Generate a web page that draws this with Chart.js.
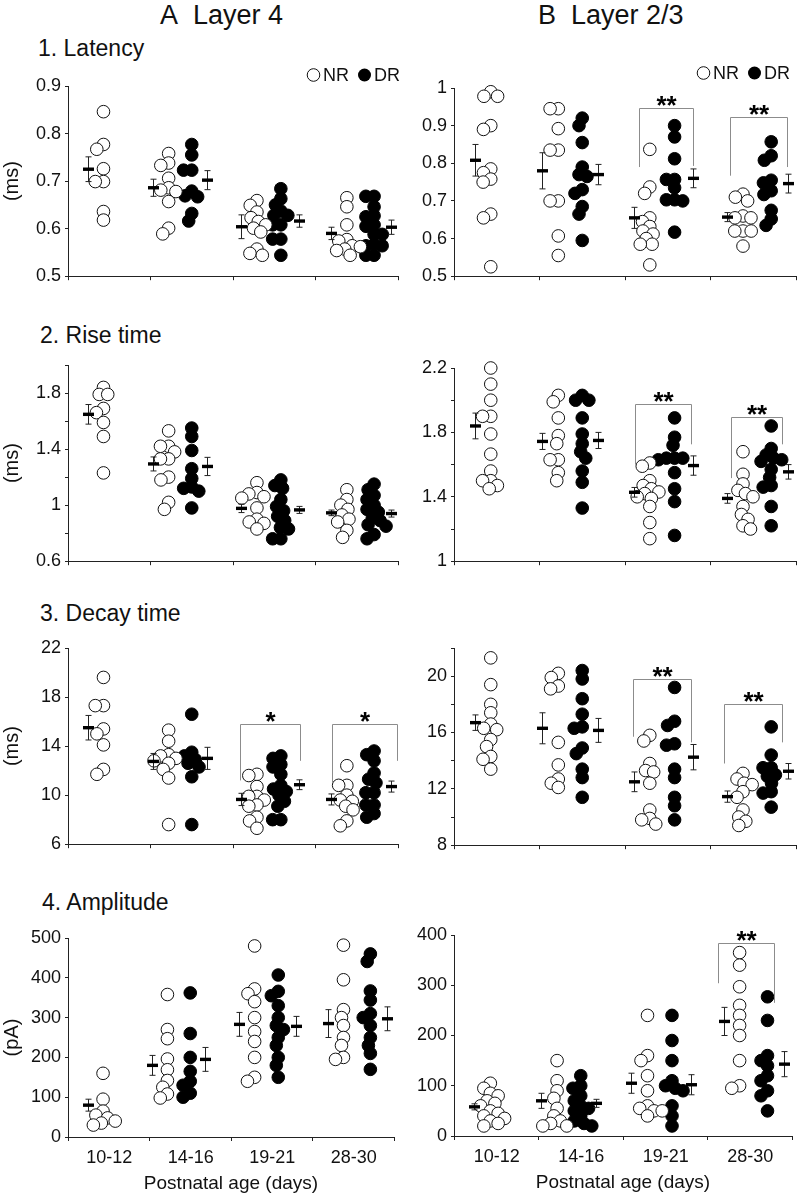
<!DOCTYPE html>
<html>
<head>
<meta charset="utf-8">
<script src="https://cdn.jsdelivr.net/npm/chart.js@4"></script>
<style>
  body { margin: 0; width: 798px; height: 1199px; background: #fff; position: relative; overflow: hidden;
         font-family: "Liberation Sans", Arial, sans-serif; color: #111; }
  .t { position: absolute; white-space: nowrap; line-height: 1; }
  canvas { position: absolute; }
</style>
</head>
<body>
<div class="t" style="left:160px;top:2px;font-size:27px">A&nbsp; Layer 4</div>
<div class="t" style="left:538px;top:2px;font-size:27px">B&nbsp; Layer 2/3</div>
<div class="t" style="left:38px;top:37px;font-size:23px">1. Latency</div>
<div class="t" style="left:40px;top:324px;font-size:23px">2. Rise time</div>
<div class="t" style="left:40px;top:602px;font-size:23px">3. Decay time</div>
<div class="t" style="left:42px;top:891px;font-size:23px">4. Amplitude</div>
<script>
const ages = ['10-12', '14-16', '19-21', '28-30'];

// 1. Latency (ms)
const latL4Ticks = [0.5, 0.6, 0.7, 0.8, 0.9];
const latL4NR = [
  [0.846, 0.777, 0.767, 0.726, 0.699, 0.699, 0.636, 0.618],
  [0.758, 0.738, 0.733, 0.706, 0.686, 0.681, 0.678, 0.657, 0.601, 0.589],
  [0.659, 0.649, 0.635, 0.623, 0.615, 0.608, 0.601, 0.593, 0.557, 0.548, 0.544],
  [0.665, 0.646, 0.608, 0.577, 0.574, 0.564, 0.562, 0.557, 0.554, 0.544]
];
const latL4DR = [
  [],
  [0.777, 0.755, 0.723, 0.723, 0.679, 0.669, 0.667, 0.632, 0.616],
  [0.684, 0.663, 0.65, 0.637, 0.628, 0.628, 0.608, 0.608, 0.578, 0.578, 0.544],
  [0.668, 0.668, 0.646, 0.627, 0.625, 0.608, 0.605, 0.588, 0.588, 0.567, 0.564, 0.564, 0.544, 0.544]
];
const latL4NRMean = [0.725, 0.686, 0.604, 0.59];
const latL4NRSem = [0.026, 0.018, 0.025, 0.013];
const latL4DRMean = [null, 0.702, 0.616, 0.603];
const latL4DRSem = [null, 0.02, 0.013, 0.015];

const latL23Ticks = [0.5, 0.6, 0.7, 0.8, 0.9, 1];
const latL23NR = [
  [0.99, 0.978, 0.978, 0.9, 0.89, 0.785, 0.775, 0.758, 0.75, 0.665, 0.655, 0.525],
  [0.945, 0.945, 0.892, 0.835, 0.835, 0.7, 0.7, 0.607, 0.555],
  [0.837, 0.737, 0.72, 0.655, 0.645, 0.632, 0.62, 0.612, 0.6, 0.585, 0.585, 0.53],
  [0.718, 0.71, 0.7, 0.66, 0.655, 0.655, 0.62, 0.62, 0.62, 0.58]
];
const latL23DR = [
  [],
  [0.92, 0.9, 0.855, 0.79, 0.77, 0.765, 0.73, 0.72, 0.685, 0.665, 0.595],
  [0.9, 0.87, 0.812, 0.757, 0.757, 0.735, 0.703, 0.703, 0.7, 0.617],
  [0.857, 0.82, 0.808, 0.755, 0.748, 0.727, 0.717, 0.675, 0.652, 0.635]
];
const latL23NRMean = [0.808, 0.78, 0.655, 0.657];
const latL23NRSem = [0.042, 0.048, 0.028, 0.012];
const latL23DRMean = [null, 0.77, 0.76, 0.746];
const latL23DRSem = [null, 0.027, 0.025, 0.025];
const latL23Sig = [
  { from: 2.16, to: 2.8, top: 0.946, l: 0.79, r: 0.793, text: '**' },
  { from: 3.23, to: 3.9, top: 0.922, l: 0.767, r: 0.79, text: '**' }
];

// 2. Rise time (ms)
const riseL4Ticks = [0.6, 1, 1.4, 1.8];
const riseL4NR = [
  [1.84, 1.79, 1.79, 1.69, 1.66, 1.59, 1.49, 1.23],
  [1.53, 1.42, 1.42, 1.38, 1.33, 1.33, 1.2, 1.18, 1.02, 0.97],
  [1.16, 1.09, 1.08, 1.06, 1.05, 0.98, 0.9, 0.88, 0.87, 0.83],
  [1.11, 1.04, 1.0, 0.97, 0.93, 0.9, 0.88, 0.82, 0.77]
];
const riseL4DR = [
  [],
  [1.55, 1.49, 1.39, 1.26, 1.19, 1.13, 1.12, 1.1, 0.98],
  [1.18, 1.14, 1.12, 1.04, 0.99, 0.96, 0.92, 0.89, 0.84, 0.83, 0.76, 0.76],
  [1.15, 1.11, 1.07, 1.04, 1.0, 0.97, 0.95, 0.91, 0.89, 0.86, 0.85, 0.79, 0.76]
];
const riseL4NRMean = [1.648, 1.294, 0.977, 0.945];
const riseL4NRSem = [0.07, 0.05, 0.03, 0.02];
const riseL4DRMean = [null, 1.276, 0.966, 0.94];
const riseL4DRSem = [null, 0.065, 0.025, 0.025];

const riseL23Ticks = [1, 1.4, 1.8, 2.2];
const riseL23NR = [
  [2.2, 2.1, 2.0, 1.9, 1.9, 1.79, 1.665, 1.56, 1.5, 1.5, 1.47, 1.45],
  [2.03, 1.99, 1.89, 1.78, 1.73, 1.63, 1.63, 1.55, 1.5],
  [1.61, 1.59, 1.5, 1.47, 1.45, 1.43, 1.42, 1.4, 1.39, 1.34, 1.24, 1.14],
  [1.68, 1.54, 1.48, 1.44, 1.42, 1.4, 1.34, 1.29, 1.26, 1.22, 1.2]
];
const riseL23DR = [
  [],
  [2.03, 2.0, 2.0, 1.89, 1.79, 1.73, 1.68, 1.64, 1.56, 1.49, 1.33],
  [1.89, 1.77, 1.72, 1.64, 1.64, 1.64, 1.63, 1.55, 1.45, 1.37, 1.16],
  [1.84, 1.7, 1.66, 1.64, 1.63, 1.62, 1.57, 1.52, 1.47, 1.46, 1.34, 1.22]
];
const riseL23NRMean = [1.84, 1.744, 1.428, 1.39];
const riseL23NRSem = [0.08, 0.05, 0.03, 0.03];
const riseL23DRMean = [null, 1.75, 1.594, 1.555];
const riseL23DRSem = [null, 0.05, 0.06, 0.045];
const riseL23Sig = [
  { from: 2.12, to: 2.77, top: 1.978, l: 1.6, r: 1.726, text: '**' },
  { from: 3.24, to: 3.84, top: 1.894, l: 1.516, r: 1.726, text: '**' }
];

// 3. Decay time (ms)
const decayL4Ticks = [6, 10, 14, 18, 22];
const decayL4NR = [
  [19.6, 17.3, 17.3, 15.4, 15.0, 14.1, 12.1, 11.7],
  [15.3, 14.4, 13.3, 13.2, 13.0, 12.8, 12.6, 12.1, 11.4, 7.6],
  [11.7, 11.6, 10.7, 9.9, 9.9, 9.6, 9.2, 9.1, 8.2, 7.9, 7.3],
  [12.4, 10.8, 10.8, 10.0, 9.6, 9.5, 9.1, 8.8, 7.9, 7.5]
];
const decayL4DR = [
  [],
  [16.6, 13.5, 13.2, 12.9, 12.6, 12.3, 11.5, 7.6],
  [13.2, 13.0, 12.5, 12.3, 11.7, 10.8, 10.5, 10.3, 10.0, 9.5, 9.1, 8.0, 8.0],
  [13.6, 13.3, 12.8, 11.8, 11.3, 11.0, 10.2, 10.2, 9.2, 9.2, 8.5, 8.2]
];
const decayL4NRMean = [15.5, 12.75, 9.65, 9.65];
const decayL4NRSem = [1.0, 0.65, 0.5, 0.45];
const decayL4DRMean = [null, 13.0, 10.85, 10.7];
const decayL4DRSem = [null, 0.9, 0.4, 0.45];
const decayL4Sig = [
  { from: 2.09, to: 2.81, top: 15.8, l: 11.2, r: 12.8, text: '*' },
  { from: 3.2, to: 3.99, top: 15.8, l: 11.0, r: 12.8, text: '*' }
];

const decayL23Ticks = [8, 12, 16, 20];
const decayL23NR = [
  [21.3, 19.4, 18.0, 17.4, 16.6, 16.3, 16.2, 15.5, 15.0, 14.3, 14.1, 13.4],
  [20.2, 19.9, 19.3, 19.1, 15.3, 13.7, 12.7, 12.4, 12.1],
  [15.8, 15.4, 13.8, 13.3, 13.2, 12.4, 10.5, 9.9, 9.8, 9.5],
  [13.1, 12.7, 12.4, 12.3, 11.8, 11.4, 10.5, 10.0, 9.7, 9.4]
];
const decayL23DR = [
  [],
  [20.4, 19.8, 18.4, 17.3, 16.4, 16.3, 14.9, 14.5, 13.4, 12.8, 11.4],
  [19.2, 16.8, 16.5, 15.2, 15.1, 13.4, 12.8, 11.4, 10.8, 9.8],
  [16.4, 14.4, 13.5, 13.5, 13.0, 12.9, 12.4, 11.8, 11.7, 10.7]
];
const decayL23NRMean = [16.7, 16.3, 12.5, 11.45];
const decayL23NRSem = [0.55, 1.1, 0.7, 0.4];
const decayL23DRMean = [null, 16.15, 14.25, 13.25];
const decayL23DRSem = [null, 0.85, 0.9, 0.55];
const decayL23Sig = [
  { from: 2.09, to: 2.77, top: 19.8, l: 15.7, r: 15.3, text: '**' },
  { from: 3.16, to: 3.84, top: 18.0, l: 13.8, r: 15.3, text: '**' }
];

// 4. Amplitude (pA)
const ampL4Ticks = [0, 100, 200, 300, 400, 500];
const ampL4NR = [
  [160, 95, 65, 55, 48, 40, 35, 30],
  [358, 270, 247, 196, 169, 142, 125, 108, 98],
  [480, 372, 360, 340, 300, 265, 240, 200, 150, 140],
  [482, 395, 320, 300, 280, 250, 230, 200, 195]
];
const ampL4DR = [
  [],
  [362, 260, 200, 165, 140, 130, 110, 100],
  [407, 366, 355, 330, 300, 280, 270, 250, 230, 200, 180, 150],
  [460, 441, 367, 344, 310, 300, 280, 250, 230, 210, 170]
];
const ampL4NRMean = [80, 180, 283, 285];
const ampL4NRSem = [15, 25, 30, 35];
const ampL4DRMean = [null, 195, 278, 297];
const ampL4DRSem = [null, 30, 25, 30];

const ampL23Ticks = [0, 100, 200, 300, 400];
const ampL23NR = [
  [105, 95, 85, 80, 70, 65, 60, 50, 45, 40, 35, 30, 25, 20],
  [150, 110, 90, 75, 55, 40, 30, 25, 20, 20],
  [240, 160, 150, 120, 90, 60, 55, 50, 50, 40],
  [365, 340, 297, 260, 240, 220, 200, 150, 100, 95]
];
const ampL23DR = [
  [],
  [120, 100, 95, 80, 70, 60, 55, 50, 40, 30, 25, 20],
  [240, 190, 150, 110, 100, 95, 90, 60, 40, 20],
  [277, 230, 160, 150, 140, 120, 110, 90, 80, 50]
];
const ampL23NRMean = [58, 70, 105, 228];
const ampL23NRSem = [6, 15, 20, 28];
const ampL23DRMean = [null, 65, 102, 143];
const ampL23DRSem = [null, 8, 20, 25];
const ampL23Sig = [
  { from: 3.13, to: 3.79, top: 384, l: 304, r: 265, text: '**' }
];

// where things sit inside an age group: [NR mean, NR dots, DR dots, DR mean]
const slots = [[0.24, 0.43], [1.03, 1.22, 1.5, 1.68], [2.1, 2.29, 2.58, 2.8], [3.19, 3.38, 3.71, 3.91]];

const FONT = '"Liberation Sans", Arial, sans-serif';
Chart.defaults.font.family = FONT;
Chart.defaults.color = '#111';

const cols = [
  { left: 0, width: 400, right: 398, yW: 68, legendEnd: 400, legendY: 75 },
  { left: 400, width: 398, right: 796, yW: 54, legendEnd: 790, legendY: 73 }
];

const panels = [
  { col: 0, top: 86, bottom: 283, min: 0.5, max: 0.9, step: 0.1, ticks: latL4Ticks, nr: latL4NR, dr: latL4DR,
    nrM: latL4NRMean, nrS: latL4NRSem, drM: latL4DRMean, drS: latL4DRSem, unit: '(ms)', legend: true, sig: [] },
  { col: 1, top: 88, bottom: 283, min: 0.5, max: 1.0, step: 0.1, ticks: latL23Ticks, nr: latL23NR, dr: latL23DR,
    nrM: latL23NRMean, nrS: latL23NRSem, drM: latL23DRMean, drS: latL23DRSem, legend: true, sig: latL23Sig },
  { col: 0, top: 365, bottom: 568, min: 0.6, max: 2.0, step: 0.2, ticks: riseL4Ticks, nr: riseL4NR, dr: riseL4DR,
    nrM: riseL4NRMean, nrS: riseL4NRSem, drM: riseL4DRMean, drS: riseL4DRSem, unit: '(ms)', sig: [] },
  { col: 1, top: 368, bottom: 568, min: 1.0, max: 2.2, step: 0.2, ticks: riseL23Ticks, nr: riseL23NR, dr: riseL23DR,
    nrM: riseL23NRMean, nrS: riseL23NRSem, drM: riseL23DRMean, drS: riseL23DRSem, sig: riseL23Sig },
  { col: 0, top: 648, bottom: 851, min: 6, max: 22, step: 4, ticks: decayL4Ticks, nr: decayL4NR, dr: decayL4DR,
    nrM: decayL4NRMean, nrS: decayL4NRSem, drM: decayL4DRMean, drS: decayL4DRSem, unit: '(ms)', sig: decayL4Sig },
  { col: 1, top: 648, bottom: 852, min: 8, max: 22, step: 2, ticks: decayL23Ticks, nr: decayL23NR, dr: decayL23DR,
    nrM: decayL23NRMean, nrS: decayL23NRSem, drM: decayL23DRMean, drS: decayL23DRSem, sig: decayL23Sig },
  { col: 0, top: 938, bottom: 1137, min: 0, max: 500, step: 100, ticks: ampL4Ticks, nr: ampL4NR, dr: ampL4DR,
    nrM: ampL4NRMean, nrS: ampL4NRSem, drM: ampL4DRMean, drS: ampL4DRSem, unit: '(pA)', last: true, sig: [] },
  { col: 1, top: 935, bottom: 1136, min: 0, max: 400, step: 100, ticks: ampL23Ticks, nr: ampL23NR, dr: ampL23DR,
    nrM: ampL23NRMean, nrS: ampL23NRSem, drM: ampL23DRMean, drS: ampL23DRSem, last: true, sig: ampL23Sig }
];

// simple beeswarm: horizontal pixel offsets so circles do not pile up
function swarm(ys, sep) {
  const placed = [];
  const out = new Array(ys.length);
  const order = ys.map((y, i) => i).sort((a, b) => ys[a] - ys[b]);
  for (const i of order) {
    const y = ys[i];
    const blocks = [];
    placed.forEach(p => {
      const dy = Math.abs(p.y - y);
      if (dy < sep) { const w = Math.sqrt(sep * sep - dy * dy); blocks.push([p.x - w, p.x + w]); }
    });
    const cands = [0];
    blocks.forEach(b => cands.push(b[0], b[1]));
    cands.sort((a, b) => Math.abs(a) - Math.abs(b));
    let x = 0;
    for (const c of cands) {
      if (blocks.every(b => c <= b[0] + 1e-6 || c >= b[1] - 1e-6)) { x = c; break; }
    }
    placed.push({ x, y });
    out[i] = x;
  }
  return out;
}

function dots(groups, k) {
  const pts = [];
  groups.forEach((vals, g) => vals.forEach(v => pts.push({ x: slots[g][k], y: v, g: g, base: slots[g][k] })));
  return pts;
}

function drawMarks(chart, p) {
  const ctx = chart.ctx, xs = chart.scales.x, ys = chart.scales.y;
  ctx.save();
  const bar = (mv, sv, xv) => {
    const px = Math.round(xs.getPixelForValue(xv)) + 0.5;
    const y0 = ys.getPixelForValue(mv - sv), y1 = ys.getPixelForValue(mv + sv), ym = ys.getPixelForValue(mv);
    ctx.strokeStyle = '#222';
    ctx.lineWidth = 1;
    ctx.beginPath();
    ctx.moveTo(px, y0); ctx.lineTo(px, y1);
    ctx.moveTo(px - 3, y0); ctx.lineTo(px + 3, y0);
    ctx.moveTo(px - 3, y1); ctx.lineTo(px + 3, y1);
    ctx.stroke();
    ctx.fillStyle = '#000';
    ctx.fillRect(px - 5.5, ym - 1.7, 11, 3.4);
  };
  p.nrM.forEach((m, g) => { if (m != null) bar(m, p.nrS[g], slots[g][0]); });
  p.drM.forEach((m, g) => { if (m != null) bar(m, p.drS[g], slots[g][3]); });

  p.sig.forEach(b => {
    const xl = Math.round(xs.getPixelForValue(b.from)) + 0.5, xr = Math.round(xs.getPixelForValue(b.to)) + 0.5;
    const yt = Math.round(ys.getPixelForValue(b.top)) + 0.5;
    ctx.strokeStyle = '#8c8c8c';
    ctx.lineWidth = 1;
    ctx.beginPath();
    ctx.moveTo(xl, ys.getPixelForValue(b.l)); ctx.lineTo(xl, yt);
    ctx.lineTo(xr, yt); ctx.lineTo(xr, ys.getPixelForValue(b.r));
    ctx.stroke();
    ctx.fillStyle = '#000';
    ctx.font = 'bold 26px ' + FONT;
    ctx.textAlign = 'center';
    ctx.textBaseline = 'alphabetic';
    ctx.fillText(b.text, (xl + xr) / 2, yt + 5);
  });

  if (p.legend) {
    const c = cols[p.col];
    ctx.font = '18px ' + FONT;
    ctx.textBaseline = 'middle';
    ctx.textAlign = 'left';
    const wN = ctx.measureText('NR').width, wD = ctx.measureText('DR').width;
    const total = 13 + 3 + wN + 9 + 13 + 3 + wD;
    let x = c.legendEnd - c.left - total;
    const y = c.legendY - (p.top - 24);
    ctx.lineWidth = 1;
    ctx.strokeStyle = '#111';
    ctx.beginPath(); ctx.arc(x + 6.5, y, 6.3, 0, Math.PI * 2);
    ctx.fillStyle = '#fff'; ctx.fill(); ctx.stroke();
    ctx.fillStyle = '#111';
    ctx.fillText('NR', x + 16, y + 1);
    x += 16 + wN + 9;
    ctx.beginPath(); ctx.arc(x + 6.5, y, 6.5, 0, Math.PI * 2);
    ctx.fillStyle = '#000'; ctx.fill();
    ctx.fillStyle = '#111';
    ctx.fillText('DR', x + 16, y + 1);
  }
  ctx.restore();
}

function makePanel(p) {
  const c = cols[p.col];
  const PADT = 24;
  const xH = p.last ? 60 : 8;
  const canvas = document.createElement('canvas');
  canvas.width = c.width;
  canvas.height = PADT + (p.bottom - p.top) + xH;
  canvas.style.left = c.left + 'px';
  canvas.style.top = (p.top - PADT) + 'px';
  document.body.appendChild(canvas);

  const yVals = [];
  for (let v = p.min; v <= p.max + 1e-9; v += p.step) yVals.push(+v.toFixed(4));

  const chart = new Chart(canvas, {
    type: 'scatter',
    data: {
      datasets: [
        { label: 'NR', data: dots(p.nr, 1), backgroundColor: '#fff', borderColor: '#111', borderWidth: 1,
          pointRadius: 6.3, clip: false },
        { label: 'DR', data: dots(p.dr, 2), backgroundColor: '#000', borderColor: '#000', borderWidth: 1,
          pointRadius: 6.3, clip: false }
      ]
    },
    options: {
      responsive: false,
      animation: false,
      events: [],
      layout: { autoPadding: false, padding: { top: PADT, left: 0, bottom: 0, right: c.width - (c.right - c.left) } },
      plugins: { legend: { display: false }, tooltip: { enabled: false } },
      scales: {
        x: {
          type: 'linear', min: 0, max: 4,
          afterBuildTicks: s => { s.ticks = [0, 1, 2, 3, 4].map(v => ({ value: v })); },
          afterFit: s => { s.height = xH; },
          grid: { drawOnChartArea: false, drawTicks: true, tickLength: 4, color: '#222', lineWidth: 1 },
          border: { color: '#222', width: 1 },
          ticks: {
            display: !!p.last, autoSkip: false, maxRotation: 0, padding: 6,
            labelOffset: (c.right - c.left - c.yW) / 8,
            font: { size: 18 }, color: '#111',
            callback: v => ages[v] || ''
          },
          title: { display: !!p.last, text: 'Postnatal age (days)', font: { size: 19 }, color: '#111',
                   padding: { top: 0, bottom: 2 } }
        },
        y: {
          min: p.min, max: p.max,
          afterBuildTicks: s => { s.ticks = yVals.map(v => ({ value: v })); },
          afterFit: s => { s.width = c.yW; },
          grid: { drawOnChartArea: false, drawTicks: true, tickLength: 3, color: '#222', lineWidth: 1 },
          border: { color: '#222', width: 1 },
          ticks: {
            padding: 4, font: { size: 18 }, color: '#111',
            callback: v => p.ticks.some(t => Math.abs(t - v) < 1e-6) ? String(+(+v).toFixed(2)) : ''
          },
          title: { display: !!p.unit, text: p.unit || '', font: { size: 20 }, color: '#111', padding: 0 }
        }
      }
    },
    plugins: [{ id: 'marks', afterDatasetsDraw: ch => drawMarks(ch, p) }]
  });

  // spread the dots sideways using the real pixel scale
  const xs = chart.scales.x, ys = chart.scales.y;
  const pxPerX = xs.getPixelForValue(1) - xs.getPixelForValue(0);
  chart.data.datasets.forEach(ds => {
    for (let g = 0; g < 4; g++) {
      const pts = ds.data.filter(d => d.g === g);
      const off = swarm(pts.map(d => ys.getPixelForValue(d.y)), 8.2);
      pts.forEach((d, k) => { d.x = d.base + off[k] / pxPerX; });
    }
  });
  chart.update('none');
}

panels.forEach(makePanel);
</script>
</body>
</html>
